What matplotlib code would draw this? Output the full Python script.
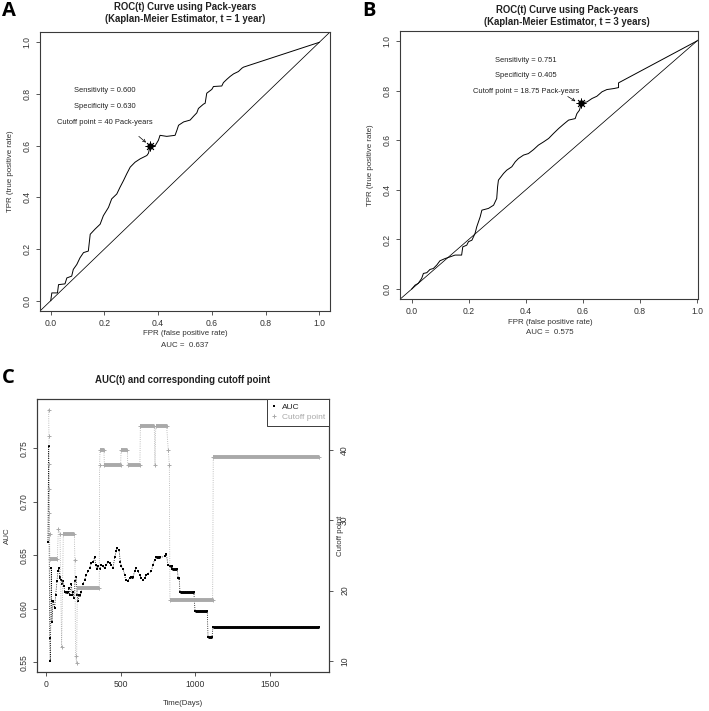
import matplotlib
matplotlib.use("Agg")
from matplotlib import pyplot as plt
from matplotlib.lines import Line2D

plt.rcParams['font.family'] = ['Liberation Sans', 'DejaVu Sans']

W, H = 709, 711

# ROC(t), t = 1 year
fpr_1y = [0.0, 0.004, 0.025, 0.029, 0.053, 0.060, 0.078, 0.084, 0.097, 0.109, 0.122, 0.140, 0.147,
          0.165, 0.184, 0.196, 0.215, 0.227, 0.246, 0.258, 0.271, 0.283, 0.296, 0.314, 0.333, 0.358,
          0.364, 0.370, 0.389, 0.401, 0.407, 0.432, 0.463, 0.470, 0.476, 0.495, 0.519, 0.532, 0.544,
          0.550, 0.569, 0.575, 0.581, 0.600, 0.606, 0.637, 0.643, 0.656, 0.668, 0.681, 0.699, 0.712,
          0.718, 1.0]
tpr_1y = [0.0, 0.030, 0.030, 0.062, 0.065, 0.088, 0.095, 0.121, 0.140, 0.166, 0.186, 0.192, 0.257,
          0.277, 0.296, 0.329, 0.361, 0.394, 0.413, 0.439, 0.465, 0.491, 0.517, 0.536, 0.549, 0.562,
          0.571, 0.600, 0.600, 0.621, 0.640, 0.636, 0.640, 0.660, 0.679, 0.692, 0.699, 0.714, 0.727,
          0.744, 0.761, 0.764, 0.803, 0.818, 0.829, 0.831, 0.844, 0.857, 0.868, 0.878, 0.887, 0.900,
          0.904, 1.0]
sens_1y, spec_1y, cut_1y, auc_1y = 0.600, 0.630, '40', 0.637

# ROC(t), t = 3 years
fpr_3y = [0.0, 0.012, 0.023, 0.035, 0.041, 0.053, 0.064, 0.076, 0.088, 0.099, 0.117, 0.135, 0.152,
          0.175, 0.179, 0.193, 0.199, 0.211, 0.222, 0.228, 0.240, 0.246, 0.269, 0.287, 0.298, 0.301,
          0.304, 0.322, 0.333, 0.351, 0.363, 0.374, 0.392, 0.409, 0.427, 0.444, 0.462, 0.480, 0.497,
          0.515, 0.532, 0.550, 0.573, 0.579, 0.588, 0.595, 0.614, 0.632, 0.649, 0.667, 0.684, 0.708,
          0.725, 0.725, 1.0]
tpr_3y = [0.0, 0.016, 0.023, 0.043, 0.063, 0.066, 0.079, 0.083, 0.097, 0.114, 0.123, 0.130, 0.137,
          0.137, 0.170, 0.177, 0.191, 0.197, 0.224, 0.251, 0.291, 0.318, 0.325, 0.338, 0.365, 0.412,
          0.439, 0.466, 0.479, 0.493, 0.513, 0.526, 0.540, 0.546, 0.562, 0.580, 0.593, 0.607, 0.627,
          0.647, 0.664, 0.681, 0.687, 0.707, 0.721, 0.751, 0.754, 0.768, 0.777, 0.795, 0.804, 0.808,
          0.812, 0.831, 1.0]
sens_3y, spec_3y, cut_3y, auc_3y = 0.751, 0.405, '18.75', 0.575

# AUC(t) and cutoff over follow-up time (days)
auc_days = [13, 18, 25, 29, 36, 38, 40, 47, 58, 65, 74, 80, 87, 92, 96, 103, 109, 114, 121, 125, 136,
            147, 154, 158, 170, 176, 181, 187, 194, 203, 208, 214, 221, 230, 237, 248, 259, 270, 281,
            292, 304, 315, 326, 333, 341, 348, 359, 371, 382, 393, 404, 415, 426, 437, 449, 460, 471,
            478, 489, 498, 504, 516, 527, 533, 549, 560, 571, 583, 594, 605, 616, 627, 638, 650, 661,
            672, 683, 705, 716, 728, 739, 761, 795, 806, 817, 830, 841, 845, 879, 885, 892, 897, 990,
            998, 1080, 1085, 1112, 1118, 1830]
auc_vals = [0.662, 0.752, 0.573, 0.551, 0.638, 0.607, 0.588, 0.607, 0.601, 0.613, 0.626, 0.635, 0.638,
            0.630, 0.629, 0.627, 0.623, 0.626, 0.621, 0.616, 0.616, 0.616, 0.619, 0.613, 0.623, 0.613,
            0.616, 0.610, 0.626, 0.630, 0.613, 0.607, 0.613, 0.613, 0.616, 0.623, 0.627, 0.632, 0.635,
            0.638, 0.643, 0.644, 0.648, 0.641, 0.637, 0.640, 0.637, 0.641, 0.640, 0.638, 0.641, 0.644,
            0.643, 0.641, 0.638, 0.648, 0.654, 0.657, 0.655, 0.644, 0.640, 0.637, 0.632, 0.627, 0.626,
            0.629, 0.630, 0.630, 0.635, 0.638, 0.635, 0.632, 0.629, 0.627, 0.629, 0.632, 0.633, 0.635,
            0.641, 0.646, 0.648, 0.648, 0.649, 0.651, 0.641, 0.640, 0.640, 0.637, 0.637, 0.629, 0.629,
            0.616, 0.616, 0.598, 0.598, 0.574, 0.574, 0.583, 0.583]
cut_days = [18, 20, 21, 22, 23, 24, 26, 76, 83, 94, 105, 116, 190, 194, 198, 205, 210, 357, 359, 362,
            388, 391, 500, 503, 545, 548, 629, 632, 725, 730, 735, 808, 819, 826, 830, 1116, 1120, 1830]
cut_vals = [45.8, 42.0, 38.0, 34.5, 31.0, 28.0, 24.5, 24.5, 28.8, 28.0, 11.9, 28.0, 28.0, 24.3, 10.7,
            9.7, 20.3, 20.3, 37.9, 40.0, 40.0, 37.9, 37.9, 40.0, 40.0, 37.9, 37.9, 43.4, 43.4, 37.9,
            43.4, 43.4, 40.0, 37.9, 18.7, 18.7, 39.0, 39.0]

GRAY = '#a9a9a9'
EDGE = '#3a3a3a'


def style(ax):
    for s in ax.spines.values():
        s.set_color(EDGE)
        s.set_linewidth(0.8)
    ax.tick_params(length=3, width=0.6, color=EDGE, labelsize=6.2, labelcolor='#333333', pad=3)


def roc_panel(ax, fpr, tpr, sens, spec, cutoff, auc, xlim, txt_x, txt_y, arr):
    ax.plot(fpr, tpr, color='black', lw=0.7)
    ax.axline((0, 0), (1, 1), color='black', lw=0.55)
    ax.plot(1 - spec, sens, 'o', ms=3.5, color='black')
    ax.plot(1 - spec, sens, marker=(8, 2, 0), ms=7, mew=0.6, color='black')
    for k, s in enumerate(['Sensitivity = %.3f' % sens, 'Specificity = %.3f' % spec,
                           'Cutoff point = %s Pack-years' % cutoff]):
        ax.text(txt_x, txt_y - 0.062 * k, s, ha='center', va='center', fontsize=5.4, color='#222222')
    ax.annotate('', xy=arr[1], xytext=arr[0],
                arrowprops=dict(arrowstyle='->', lw=0.5, color='black', mutation_scale=5,
                                shrinkA=0, shrinkB=0))
    ax.set_xlim(xlim)
    ax.set_ylim(-0.04, 1.04)
    ticks = [0.0, 0.2, 0.4, 0.6, 0.8, 1.0]
    ax.set_xticks(ticks, ['%.1f' % t for t in ticks])
    ax.set_yticks(ticks, ['%.1f' % t for t in ticks])
    style(ax)
    for lab in ax.get_yticklabels():
        lab.set_rotation(90)
        lab.set_va('center')
    ax.set_ylabel('TPR (true positive rate)', fontsize=5.7, color='#333333', labelpad=6)


fig = plt.figure(figsize=(W / 100, H / 100), dpi=100)
axA = fig.add_axes([40 / W, 1 - 311 / H, 290 / W, 279 / H])
axB = fig.add_axes([400 / W, 1 - 299 / H, 298 / W, 268 / H])
axC = fig.add_axes([37 / W, 1 - 672 / H, 292 / W, 273 / H])

roc_panel(axA, fpr_1y, tpr_1y, sens_1y, spec_1y, cut_1y, auc_1y, (-0.04, 1.04),
          0.20, 0.813, ((0.328, 0.636), (0.355, 0.612)))
roc_panel(axB, fpr_3y, tpr_3y, sens_3y, spec_3y, cut_3y, auc_3y, (-0.041, 1.0035),
          0.40, 0.922, ((0.547, 0.776), (0.574, 0.757)))

def px(x, y):
    return x / W, 1 - y / H

for x, y, s in [(185, 333, 'FPR (false positive rate)'), (185, 345, 'AUC =  %.3f' % auc_1y),
                (550, 322, 'FPR (false positive rate)'), (550, 332, 'AUC =  %.3f' % auc_3y)]:
    fig.text(*px(x, y), s, ha='center', va='center', fontsize=5.7, color='#333333')

tkw = dict(ha='center', va='center', fontsize=6.9, weight='bold', linespacing=1.25, color='#222222')
fig.text(*px(185, 13), 'ROC(t) Curve using Pack-years\n(Kaplan-Meier Estimator, t = 1 year)', **tkw)
fig.text(*px(567, 16), 'ROC(t) Curve using Pack-years\n(Kaplan-Meier Estimator, t = 3 years)', **tkw)
fig.text(*px(183, 380), 'AUC(t) and corresponding cutoff point', **tkw)

for x, y, s in [(2, 1, 'A'), (362, 1, 'B'), (2, 368, 'C')]:
    fig.text(*px(x, y), s, ha='left', va='top', fontsize=14.5, weight='bold',
             family=['Open Sans', 'DejaVu Sans'])

# panel C
axC.plot(auc_days, auc_vals, ls=':', lw=0.6, color='black', marker='s', ms=1.9, mew=0)
for i in range(len(auc_days) - 1):
    if auc_vals[i] == auc_vals[i + 1]:
        axC.plot(auc_days[i:i + 2], auc_vals[i:i + 2], color='black', lw=2.1, solid_capstyle='butt')
axC.set_xlim(-60, 1895)
axC.set_ylim(0.541, 0.796)
axC.set_xticks([0, 500, 1000, 1500])
aticks = [0.55, 0.60, 0.65, 0.70, 0.75]
axC.set_yticks(aticks, ['%.2f' % t for t in aticks])
style(axC)
for lab in axC.get_yticklabels():
    lab.set_rotation(90)
    lab.set_va('center')
axC.set_ylabel('AUC', fontsize=5.7, color='#333333', labelpad=6)
axC.set_xlabel('Time(Days)', fontsize=5.7, color='#333333', labelpad=8)

ax2 = axC.twinx()
ax2.plot(cut_days, cut_vals, ls=':', lw=0.6, color=GRAY, marker='+', ms=3, mew=0.7)
for i in range(len(cut_days) - 1):
    if cut_vals[i] == cut_vals[i + 1]:
        ax2.plot(cut_days[i:i + 2], cut_vals[i:i + 2], color=GRAY, lw=2.8, solid_capstyle='butt')
ax2.set_ylim(8.4, 47.3)
ax2.set_yticks([10, 20, 30, 40])
style(ax2)
ax2.tick_params(pad=5)
for lab in ax2.get_yticklabels():
    lab.set_rotation(90)
    lab.set_va('center')
ax2.set_ylabel('Cutoff point', fontsize=5.7, color='#333333')
ax2.yaxis.set_label_coords(1.028, 0.5)

handles = [Line2D([], [], ls='none', marker='s', ms=2.0, mew=0, color='black', label='AUC'),
           Line2D([], [], ls='none', marker='+', ms=3, mew=0.7, color=GRAY, label='Cutoff point')]
leg = ax2.legend(handles=handles, loc='upper right', fontsize=6, fancybox=False, framealpha=1,
                 edgecolor=EDGE, borderaxespad=0, handlelength=0.8, handletextpad=0.5,
                 borderpad=0.5, labelspacing=0.3)
leg.get_frame().set_linewidth(0.7)
leg.get_texts()[0].set_color('#222222')
leg.get_texts()[1].set_color(GRAY)

fig.savefig('out.png', dpi=100)
